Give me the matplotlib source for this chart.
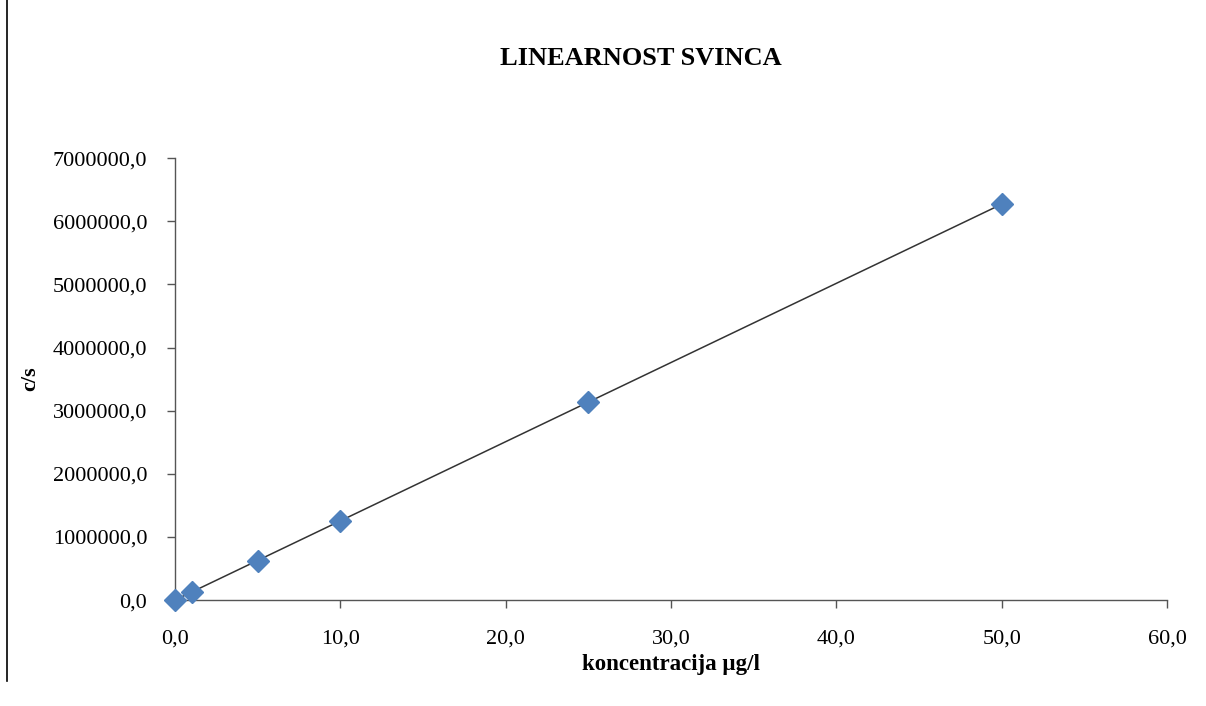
import numpy as np
import matplotlib
matplotlib.use("Agg")
import matplotlib.pyplot as plt
from matplotlib.lines import Line2D
from matplotlib.ticker import FuncFormatter, MultipleLocator

# ── Data ───────────────────────────────────────────────────
conc = [0.0, 1.0, 5.0, 10.0, 25.0, 50.0]                 # µg/l
cps = [5000, 127000, 620000, 1255000, 3140000, 6270000]   # c/s

plt.rcParams["font.family"] = ["Liberation Serif", "DejaVu Serif"]

fig = plt.figure(figsize=(12.06, 7.06), dpi=100)
ax = fig.add_axes([0.1451, 0.150, 0.8226, 0.626])

# linear trendline
k, n = np.polyfit(conc, cps, 1)
xs = np.array([min(conc), max(conc)])
ax.plot(xs, k * xs + n, color="#333333", lw=1.1, zorder=2)
ax.plot(conc, cps, ls="none", marker="D", ms=11.5, color="#4F81BD",
        mec="#4F81BD", zorder=3, clip_on=False)

ax.set_xlim(0, 60)
ax.set_ylim(0, 7000000)
ax.xaxis.set_major_locator(MultipleLocator(10))
ax.yaxis.set_major_locator(MultipleLocator(1000000))
comma = FuncFormatter(lambda v, _: f"{v:.1f}".replace(".", ","))
ax.xaxis.set_major_formatter(comma)
ax.yaxis.set_major_formatter(comma)

for s in ("top", "right"):
    ax.spines[s].set_visible(False)
for s in ("left", "bottom"):
    ax.spines[s].set_color("#555555")
    ax.spines[s].set_linewidth(1.0)
ax.tick_params(direction="out", length=6, width=1, color="#555555",
               labelsize=16, pad=14)
ax.tick_params(axis="x", pad=15)

ax.set_xlabel("koncentracija µg/l", fontsize=16.5, fontweight="bold", labelpad=4)
ax.set_ylabel("c/s", fontsize=16, fontweight="bold", labelpad=9)
fig.text(0.531, 0.917, "LINEARNOST SVINCA", ha="center", va="center",
         fontsize=19, fontweight="bold")

# left frame line
fig.add_artist(Line2D([0.0062, 0.0062], [1.0, 0.035], color="black", lw=1.2))

fig.savefig("out.png", dpi=100)
